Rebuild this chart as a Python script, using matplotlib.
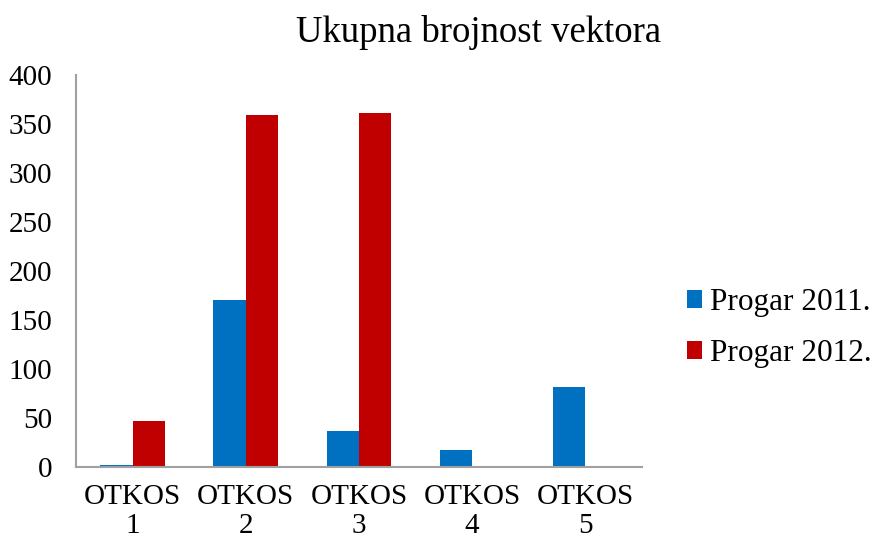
import numpy as np
import matplotlib
matplotlib.use("Agg")
import matplotlib.pyplot as plt

# podaci po otkosima
kategorije = ["OTKOS\n1", "OTKOS\n2", "OTKOS\n3", "OTKOS\n4", "OTKOS\n5"]
progar_2011 = [3, 171, 37, 18, 82]
progar_2012 = [47, 359, 361, 0, 0]
y_ticks = [0, 50, 100, 150, 200, 250, 300, 350, 400]

plt.rcParams['font.family'] = ['Liberation Serif', 'DejaVu Serif']

fig = plt.figure(figsize=(8.79, 5.49), dpi=100)
ax = fig.add_axes([0.0865, 0.1485, 0.6435, 0.7145])

x = np.arange(len(kategorije))
w = 0.285
ax.bar(x - w / 2, progar_2011, w, color="#0070C0", label="Progar 2011.")
ax.bar(x + w / 2, progar_2012, w, color="#C00000", label="Progar 2012.")

ax.set_xlim(-0.5, len(kategorije) - 0.5)
ax.set_ylim(0, 400)
ax.set_yticks(y_ticks)
ax.set_xticks(x)
ax.set_xticklabels(kategorije, fontsize=21, linespacing=1.15)
ax.tick_params(axis="y", labelsize=21, length=0, pad=17)
ax.tick_params(axis="x", length=0, pad=12)
for lab in ax.get_yticklabels():
    lab.set_horizontalalignment("right")

for s in ["top", "right"]:
    ax.spines[s].set_visible(False)
for s in ["left", "bottom"]:
    ax.spines[s].set_color("#a0a0a0")
    ax.spines[s].set_linewidth(1.5)

fig.text(0.545, 0.94, "Ukupna brojnost vektora", fontsize=26.5,
         ha="center", va="center")

leg = ax.legend(loc="center left", bbox_to_anchor=(1.03, 0.355), frameon=False,
                fontsize=22.5, handlelength=0.5, handleheight=0.5,
                handletextpad=0.25, labelspacing=0.72, borderpad=0.4)

fig.savefig("out.png", dpi=100)
